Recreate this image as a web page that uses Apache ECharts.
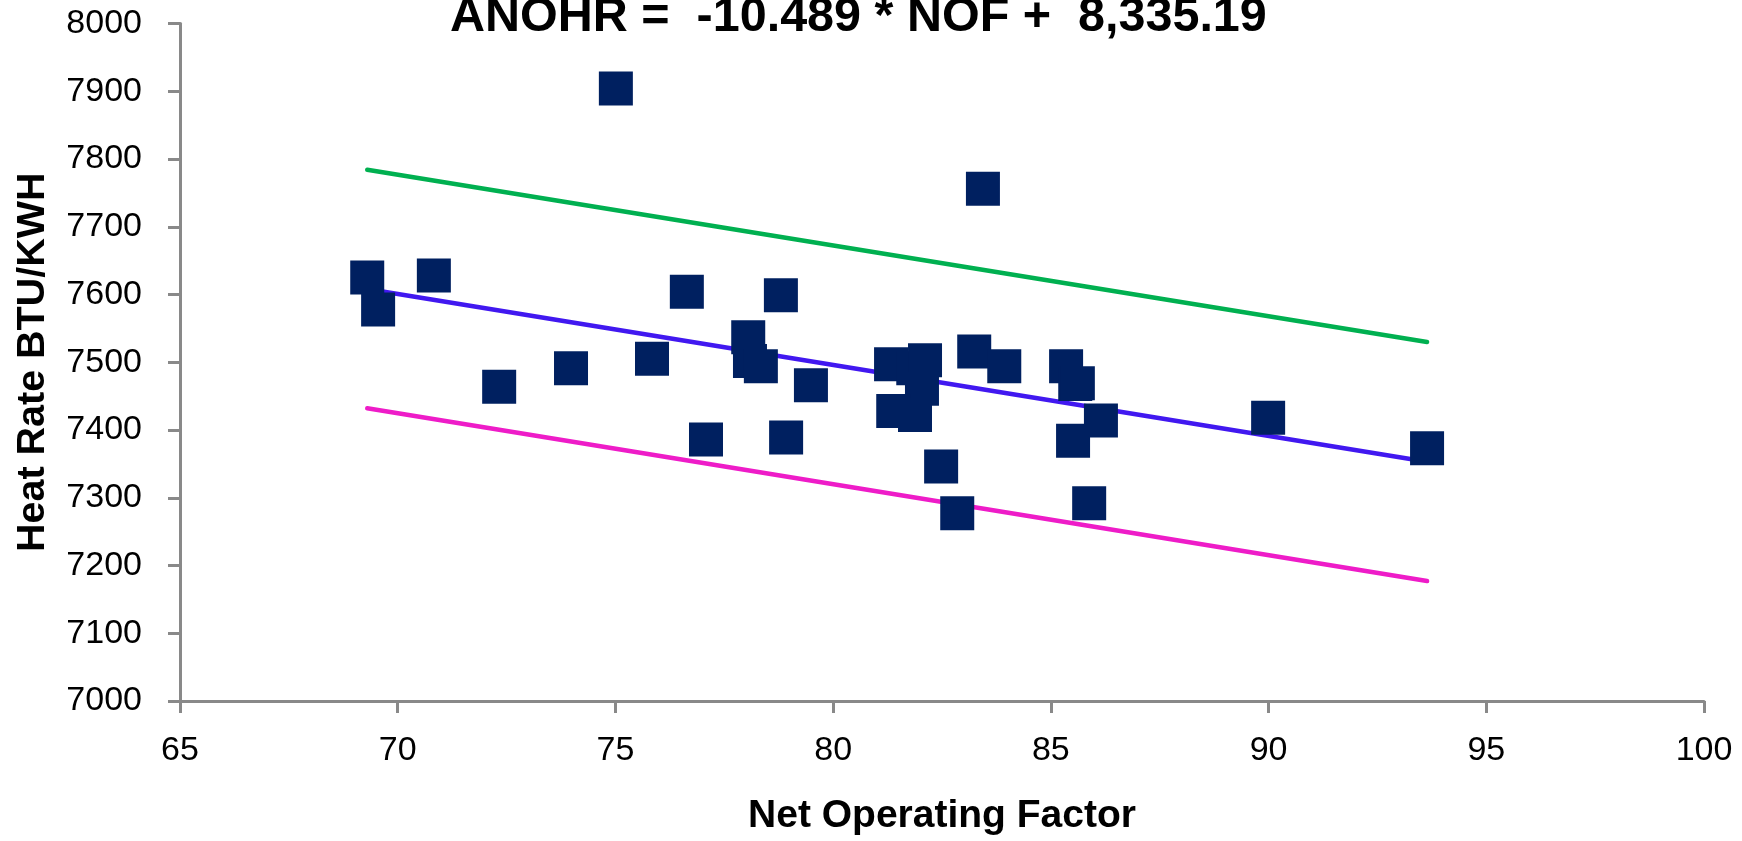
<!DOCTYPE html>
<html>
<head>
<meta charset="utf-8">
<script src="https://cdn.jsdelivr.net/npm/echarts@6/dist/echarts.min.js"></script>
<style>
html,body{margin:0;padding:0;background:#fff;}
#chart{width:1742px;height:841px;}
</style>
</head>
<body>
<div id="chart"></div>
<script>
// ---- data ----
const titleText = 'ANOHR =  -10.489 * NOF +  8,335.19';
const xName = 'Net Operating Factor';
const yName = 'Heat Rate BTU/KWH';

const nof = [69.30, 69.55, 70.83, 72.33, 73.98, 75.84, 75.01, 76.64, 77.08, 78.05,
             78.09, 78.34, 78.80, 78.92, 79.49, 81.33, 81.84, 82.11, 82.04, 81.38,
             81.88, 83.24, 83.44, 83.93, 82.48, 82.85, 85.35, 85.56, 85.62, 86.15,
             85.51, 85.88, 89.99, 93.64];
const heatRate = [7625, 7578, 7628, 7464, 7491, 7505, 7904, 7604, 7386, 7537,
                  7502, 7494, 7599, 7389, 7466, 7497, 7491, 7503, 7461, 7428,
                  7422, 7516, 7756, 7494, 7346, 7277, 7494, 7468, 7469, 7414,
                  7384, 7292, 7418, 7373];

const lineX = [69.30, 93.64];
const fitY = [7608, 7353];
const upperY = [7784, 7530];
const lowerY = [7432, 7177];

const xMin = 65, xMax = 100, xStep = 5;
const yMin = 7000, yMax = 8000, yStep = 100;

// ---- build ----
const pts = nof.map((x, i) => [x, heatRate[i]]);
const pair = (ys) => lineX.map((x, i) => [x, ys[i]]);

const axisGrey = '#898989';
const tickFont = 'Liberation Sans';
const chart = echarts.init(document.getElementById('chart'), null, {renderer: 'canvas'});
chart.setOption({
  animation: false,
  backgroundColor: '#ffffff',
  title: {
    text: titleText,
    left: 450,
    top: -6.5,
    padding: 0,
    textStyle: {
      fontFamily: 'Liberation Sans, Arial, sans-serif',
      fontWeight: 'bold',
      fontSize: 48.5,
      color: '#000'
    }
  },
  grid: {left: 180, right: 38, top: 23.5, bottom: 136, containLabel: false},
  xAxis: {
    type: 'value',
    min: xMin, max: xMax, interval: xStep,
    name: xName,
    nameLocation: 'middle',
    nameGap: 96,
    nameTextStyle: {fontFamily: 'Liberation Sans, Arial, sans-serif', fontWeight: 'bold', fontSize: 39, color: '#000'},
    axisLine: {show: true, onZero: false, lineStyle: {color: axisGrey, width: 3}},
    axisTick: {show: true, inside: false, length: 12, lineStyle: {color: axisGrey, width: 3}},
    axisLabel: {margin: 33, fontFamily: tickFont, fontSize: 34, color: '#000', formatter: (v) => String(v)},
    splitLine: {show: false}
  },
  yAxis: {
    type: 'value',
    min: yMin, max: yMax, interval: yStep,
    name: yName,
    nameLocation: 'middle',
    nameGap: 127,
    nameTextStyle: {fontFamily: 'Liberation Sans, Arial, sans-serif', fontWeight: 'bold', fontSize: 39.5, color: '#000'},
    axisLine: {show: true, lineStyle: {color: axisGrey, width: 3}},
    axisTick: {show: true, inside: false, length: 12, lineStyle: {color: axisGrey, width: 3}},
    axisLabel: {margin: 38, fontFamily: tickFont, fontSize: 34, color: '#000', formatter: (v) => String(v)},
    splitLine: {show: false}
  },
  series: [
    {type: 'line', data: pair(upperY), symbol: 'none', z: 2,
     lineStyle: {color: '#00B050', width: 4.5, cap: 'round'}},
    {type: 'line', data: pair(fitY), symbol: 'none', z: 2,
     lineStyle: {color: '#4118F0', width: 4.5, cap: 'round'}},
    {type: 'line', data: pair(lowerY), symbol: 'none', z: 2,
     lineStyle: {color: '#EE1CC8', width: 4.5, cap: 'round'}},
    {type: 'scatter', data: pts, symbol: 'rect', symbolSize: 34, z: 5,
     itemStyle: {color: '#002060', opacity: 1}}
  ]
});
</script>
</body>
</html>
